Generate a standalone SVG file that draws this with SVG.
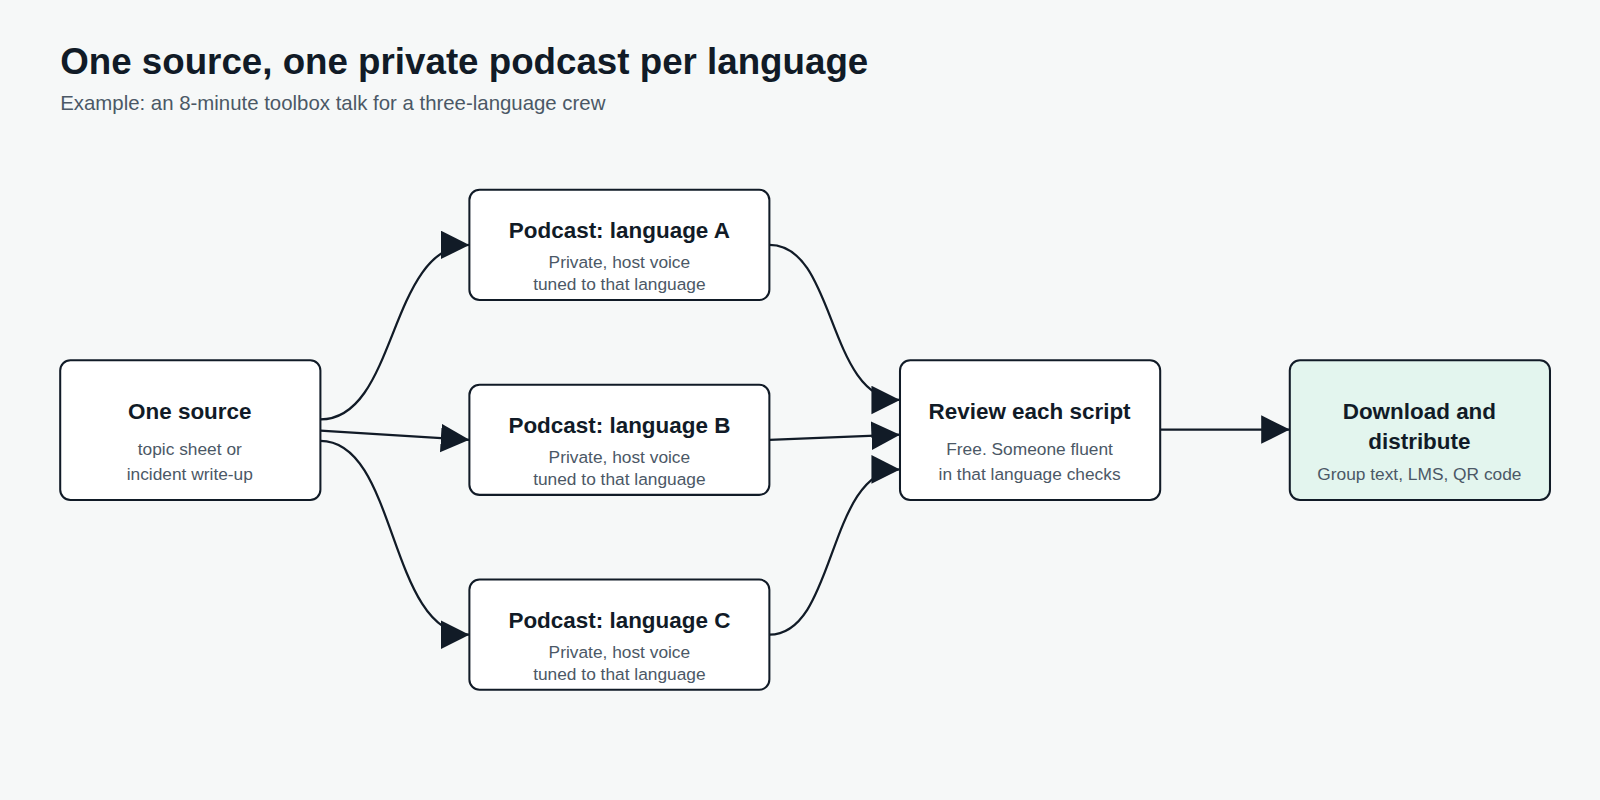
<svg xmlns="http://www.w3.org/2000/svg" width="1600" height="800" viewBox="0 0 1600 800">
<style>
text{font-family:"Liberation Sans",Arial,sans-serif;text-anchor:middle}
.box{fill:#fff;stroke:#111b27;stroke-width:2}
.t{font-size:22px;font-weight:bold;fill:#111b27}
.s{font-size:17px;fill:#4b5866}
.e{fill:none;stroke:#111b27;stroke-width:2.2}
</style>
<defs>
<marker id="ah" markerUnits="userSpaceOnUse" markerWidth="30" markerHeight="30" refX="28" refY="14" orient="auto">
<path d="M0,0 L28,14 L0,28 Z" fill="#111b27"/>
</marker>
</defs>
<rect width="1600" height="800" fill="#f6f8f8"/>
<g transform="scale(1.0204)">
<text x="59" y="73" style="text-anchor:start;font-size:36px;font-weight:bold;fill:#111b27">One source, one private podcast per language</text>
<text x="59" y="108" style="text-anchor:start;font-size:20px;fill:#4b5866">Example: an 8-minute toolbox talk for a three-language crew</text>
<g id="connectors">
<path class="e" marker-end="url(#ah)" d="M314,411 C390,411 380,240 460,240"/>
<path class="e" marker-end="url(#ah)" d="M314,422 L460,431"/>
<path class="e" marker-end="url(#ah)" d="M314,432 C390,432 380,622 460,622"/>
<path class="e" marker-end="url(#ah)" d="M754,240 C820,240 810,392 882,392"/>
<path class="e" marker-end="url(#ah)" d="M754,431 L882,426"/>
<path class="e" marker-end="url(#ah)" d="M754,622 C820,622 810,460 882,460"/>
<path class="e" marker-end="url(#ah)" d="M1137,421 L1264,421"/>
</g>
<g id="source"><rect class="box" x="59" y="353" width="255" height="137" rx="10"/>
<text class="t" x="186" y="411">One source</text><text class="s" x="186" y="446">topic sheet or</text><text class="s" x="186" y="470">incident write-up</text></g>
<g id="podA"><rect class="box" x="460" y="186" width="294" height="108" rx="10"/>
<text class="t" x="607" y="233">Podcast: language A</text><text class="s" x="607" y="263">Private, host voice</text><text class="s" x="607" y="284">tuned to that language</text></g>
<g id="podB"><rect class="box" x="460" y="377" width="294" height="108" rx="10"/>
<text class="t" x="607" y="424">Podcast: language B</text><text class="s" x="607" y="454">Private, host voice</text><text class="s" x="607" y="475">tuned to that language</text></g>
<g id="podC"><rect class="box" x="460" y="568" width="294" height="108" rx="10"/>
<text class="t" x="607" y="615">Podcast: language C</text><text class="s" x="607" y="645">Private, host voice</text><text class="s" x="607" y="666">tuned to that language</text></g>
<g id="review"><rect class="box" x="882" y="353" width="255" height="137" rx="10"/>
<text class="t" x="1009" y="411">Review each script</text><text class="s" x="1009" y="446">Free. Someone fluent</text><text class="s" x="1009" y="470">in that language checks</text></g>
<g id="download"><rect class="box" x="1264" y="353" width="255" height="137" rx="10" style="fill:#e3f5ee"/>
<text class="t" x="1391" y="411">Download and</text><text class="t" x="1391" y="440">distribute</text><text class="s" x="1391" y="470">Group text, LMS, QR code</text></g>
</g>
</svg>
